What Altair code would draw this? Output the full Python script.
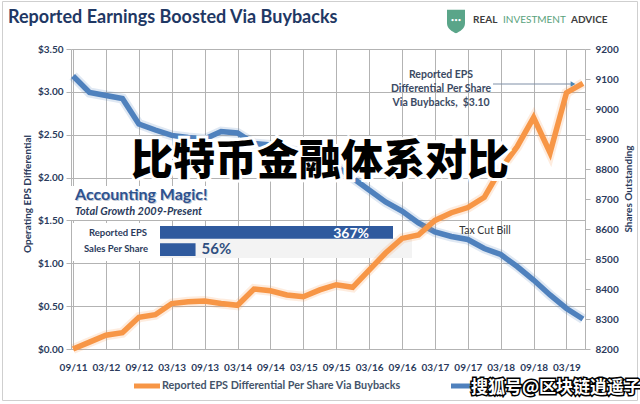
import altair as alt
import pandas as pd

# ---------------- data ----------------
quarters = ["09/11", "12/11", "03/12", "06/12", "09/12", "12/12", "03/13", "06/13",
            "09/13", "12/13", "03/14", "06/14", "09/14", "12/14", "03/15", "06/15",
            "09/15", "12/15", "03/16", "06/16", "09/16", "12/16", "03/17", "06/17",
            "09/17", "12/17", "03/18", "06/18", "09/18", "12/18", "03/19", "06/19"]
eps_diff = [0.00, 0.08, 0.16, 0.19, 0.37, 0.40, 0.53, 0.55,
            0.56, 0.53, 0.51, 0.70, 0.68, 0.63, 0.61, 0.69,
            0.75, 0.72, 0.92, 1.12, 1.29, 1.33, 1.50, 1.59,
            1.65, 1.77, 2.10, 2.36, 2.70, 2.29, 2.99, 3.10]
shares_out = [9110, 9055, 9045, 9035, 8950, 8930, 8912, 8905,
              8900, 8925, 8920, 8885, 8880, 8865, 8855, 8845,
              8810, 8770, 8730, 8690, 8660, 8620, 8590, 8575,
              8565, 8535, 8515, 8475, 8430, 8380, 8335, 8300]
tick_labels = ["09/11", "03/12", "09/12", "03/13", "09/13", "03/14", "09/14", "03/15",
               "09/15", "03/16", "09/16", "03/17", "09/17", "03/18", "09/18", "03/19"]
eps_ticks = [0, 0.5, 1.0, 1.5, 2.0, 2.5, 3.0, 3.5]
share_ticks = [8200, 8300, 8400, 8500, 8600, 8700, 8800, 8900, 9000, 9100, 9200]
growth_labels = ["Reported EPS", "Sales Per Share"]
growth_values = [367, 56]

# ---------------- style ----------------
ORANGE = "#f79646"
BLUE = "#4f81bd"
GRID = "#b3b3b3"
LABEL = "#2b3b5c"
NAVY = "#1f3864"
BARBLUE = "#2f5a9e"
FONT = "Lato"
CJK = "Noto Sans CJK SC"

L, T = 71, 49          # plot area origin in page pixels
W, H = 514, 300


def X(px):
    return px - L


def Y(py):
    return py - T


df = pd.DataFrame({"quarter": quarters, "eps": eps_diff, "shares": shares_out})
gdf = pd.DataFrame({"label": growth_labels, "growth": growth_values})
ONE = pd.DataFrame({"_": [0]})

xscale = alt.Scale(type="point", domain=quarters, padding=0.125)


def rect(x1, y1, x2, y2, **kw):
    return alt.Chart(ONE).mark_rect(**kw).encode(
        x=alt.value(X(x1)), x2=alt.value(X(x2)), y=alt.value(Y(y1)), y2=alt.value(Y(y2)))


def txt(s, x, y, **kw):
    base = dict(font=FONT, baseline="middle")
    base.update(kw)
    return alt.Chart(ONE).mark_text(**base).encode(
        x=alt.value(X(x)), y=alt.value(Y(y)), text=alt.value(s))


def hrule(x1, x2, y, **kw):
    return alt.Chart(ONE).mark_rule(**kw).encode(
        x=alt.value(X(x1)), x2=alt.value(X(x2)), y=alt.value(Y(y)))


# ---------------- inset backgrounds ----------------
inset_bg = rect(71, 186, 212, 220, color="white")
label_bg = rect(72, 223, 157, 261, color="white")
hatch_bg = rect(160, 238, 412, 258, color="#f3f3f3")

bar_y = alt.Y("label:N", scale=alt.Scale(domain=growth_labels, range=[Y(226), Y(256)],
                                         paddingInner=0.25, paddingOuter=0), axis=None)
bar_x = alt.X("growth:Q", scale=alt.Scale(domain=[0, 367], range=[X(160), X(393)]), axis=None)

bars = alt.Chart(gdf).mark_bar(color=BARBLUE, orient="horizontal").encode(x=bar_x, y=bar_y)
pct_big = alt.Chart(gdf).transform_filter(alt.datum.label == growth_labels[0]).transform_calculate(
    t="format(datum.growth, 'd') + '%'").mark_text(
    font=FONT, fontSize=14, fontWeight="bold", color="white", align="right", dx=-24, baseline="middle"
).encode(x=bar_x, y=bar_y, text="t:N")
pct_small = alt.Chart(gdf).transform_filter(alt.datum.label == growth_labels[1]).transform_calculate(
    t="format(datum.growth, 'd') + '%'").mark_text(
    font=FONT, fontSize=15, fontWeight="bold", color="#2f4f80", align="left", dx=6, baseline="middle"
).encode(x=bar_x, y=bar_y, text="t:N")

# ---------------- lines ----------------
blue_glow = alt.Chart(df).mark_line(color=BLUE, strokeWidth=10, opacity=0.18).encode(
    x=alt.X("quarter:O", scale=xscale, axis=None),
    y=alt.Y("shares:Q", scale=alt.Scale(domain=[8200, 9200], nice=False, zero=False), axis=None))
blue_line = alt.Chart(df).mark_line(color=BLUE, strokeWidth=5.5).encode(
    x=alt.X("quarter:O", scale=xscale, axis=None),
    y=alt.Y("shares:Q", scale=alt.Scale(domain=[8200, 9200], nice=False, zero=False),
            axis=alt.Axis(orient="right", values=share_ticks, format="d", grid=False, title=None,
                          tickSize=5, tickColor=GRID, domainColor=GRID, labelPadding=5,
                          labelFont=FONT, labelFontSize=10, labelFontWeight="bold",
                          labelColor=LABEL)))
orange_glow = alt.Chart(df).mark_line(color=ORANGE, strokeWidth=10, opacity=0.18).encode(
    x=alt.X("quarter:O", scale=xscale, axis=None),
    y=alt.Y("eps:Q", scale=alt.Scale(domain=[0, 3.5], nice=False), axis=None))
orange_line = alt.Chart(df).mark_line(color=ORANGE, strokeWidth=5.5).encode(
    x=alt.X("quarter:O", scale=xscale,
            axis=alt.Axis(values=tick_labels, grid=True, gridColor=GRID, domainColor=GRID,
                          tickSize=0, labelPadding=13, labelAngle=0, title=None,
                          labelFont=FONT, labelFontSize=10, labelFontWeight="bold",
                          labelColor=LABEL)),
    y=alt.Y("eps:Q", scale=alt.Scale(domain=[0, 3.5], nice=False),
            axis=alt.Axis(values=eps_ticks, format="$.2f", grid=True, gridColor=GRID,
                          domainColor=GRID, tickColor=GRID, tickSize=5, labelPadding=3,
                          title=None, labelFont=FONT, labelFontSize=10,
                          labelFontWeight="bold", labelColor=LABEL)))

# ---------------- annotations ----------------
acc_shadow = txt("Accounting Magic!", 76, 196, fontSize=16, fontWeight="bold", color="#9aa8bd",
                 align="left", opacity=0.6)
acc = txt("Accounting Magic!", 75, 195, fontSize=16, fontWeight="bold", color="#2e528f", align="left")
acc_sub = txt("Total Growth 2009-Present", 75, 212, fontSize=11, fontWeight="bold",
              fontStyle="italic", color="#2b3b5c", align="left")
lab1 = txt(growth_labels[0], 147, 233, fontSize=9.5, fontWeight="bold", color=LABEL, align="right")
lab2 = txt(growth_labels[1], 148, 249, fontSize=9.5, fontWeight="bold", color=LABEL, align="right")

tax = txt("Tax Cut Bill", 485, 231, fontSize=10.5, color="#333333", align="center")
callout = alt.Chart(ONE).mark_text(font=FONT, fontSize=10.5, fontWeight="bold", color="#3b4a63",
                                   align="center", baseline="middle", lineHeight=14).encode(
    x=alt.value(X(441)), y=alt.value(Y(75)),
    text=alt.value(["Reported EPS", "Differential Per Share",
                    "Via Buybacks,\u00a0\u00a0$" + format(eps_diff[-1], ".2f")]))
arrow_line = hrule(493, 572, 84, color="#7f8fa6", strokeWidth=1)
arrow_head = alt.Chart(ONE).mark_point(shape="triangle-right", filled=True, color="#4a86b5",
                                       size=30, opacity=1).encode(
    x=alt.value(X(573)), y=alt.value(Y(84)))

# axis titles
ytitle_l = txt("Operating EPS Differential", 28, 194, fontSize=10, fontWeight="bold",
               color=LABEL, align="center", angle=270)
ytitle_r = txt("Shares Outstanding", 629, 189, fontSize=10, fontWeight="bold",
               color=LABEL, align="center", angle=270)

# header
title = txt("Reported Earnings Boosted Via Buybacks", 8, 18, fontSize=18, fontWeight="bold",
            color=NAVY, align="left")
shield = alt.Chart(ONE).mark_point(
    shape="M -0.8 -1 L 0.8 -1 L 0.8 0.2 C 0.8 0.7 0.3 0.95 0 1.1 C -0.3 0.95 -0.8 0.7 -0.8 0.2 Z",
    filled=True, color="#5aa589", opacity=1, size=506).encode(
    x=alt.value(X(456)), y=alt.value(Y(21)))
shield_dots = txt("•••", 456, 20, fontSize=6, color="white", align="center")
logo1 = txt("REAL", 473, 20, fontSize=10, fontWeight="bold", color="#3d3d3d", align="left")
logo2 = txt("INVESTMENT", 503, 20, fontSize=10, color="#5aa27c", align="left")
logo3 = txt("ADVICE", 571, 20, fontSize=10, fontWeight="bold", color="#3d3d3d", align="left")

frame = alt.Chart(ONE).mark_rect(fillOpacity=0, stroke="#cfcfcf", strokeWidth=1).encode(
    x=alt.value(X(2.5)), x2=alt.value(X(637.5)), y=alt.value(Y(1.5)), y2=alt.value(Y(400.5)))

# legend
leg_o = hrule(134, 160, 386, color=ORANGE, strokeWidth=5)
leg_o_t = txt("Reported EPS Differential Per Share Via Buybacks", 162, 386, fontSize=10.8,
              fontWeight="bold", color="#44546a", align="left")
leg_b = hrule(451, 472, 386, color=BLUE, strokeWidth=5)

# watermarks
wm_halo = txt("比特币金融体系对比", 320, 162, font=CJK, fontSize=42, fontWeight=900,
              color="white", stroke="white", strokeWidth=6, align="center")
wm = txt("比特币金融体系对比", 320, 162, font=CJK, fontSize=42, fontWeight=900,
         color="black", align="center")
wm2_o = txt("搜狐号@区块链逍遥子", 471, 388, font=CJK, fontSize=17, fontWeight="bold",
            color="black", stroke="black", strokeWidth=3, align="left")
wm2 = txt("搜狐号@区块链逍遥子", 471, 388, font=CJK, fontSize=17, fontWeight="bold",
          color="white", align="left")

chart = alt.layer(
    frame, inset_bg, label_bg, hatch_bg, bars, pct_big, pct_small,
    blue_glow, blue_line, orange_glow, orange_line,
    acc_shadow, acc, acc_sub, lab1, lab2, tax, callout, arrow_line, arrow_head,
    ytitle_l, ytitle_r, title, shield, shield_dots, logo1, logo2, logo3,
    leg_o, leg_o_t, leg_b, wm_halo, wm, wm2_o, wm2
).resolve_scale(x="independent", y="independent").properties(
    width=W, height=H,
    autosize=alt.AutoSizeParams(type="none"),
    padding={"left": L, "top": T, "right": 640 - L - W, "bottom": 404 - T - H},
    background="white",
).configure_view(stroke=None)

chart.save("out.html", embed_options={"renderer": "svg", "actions": False})
